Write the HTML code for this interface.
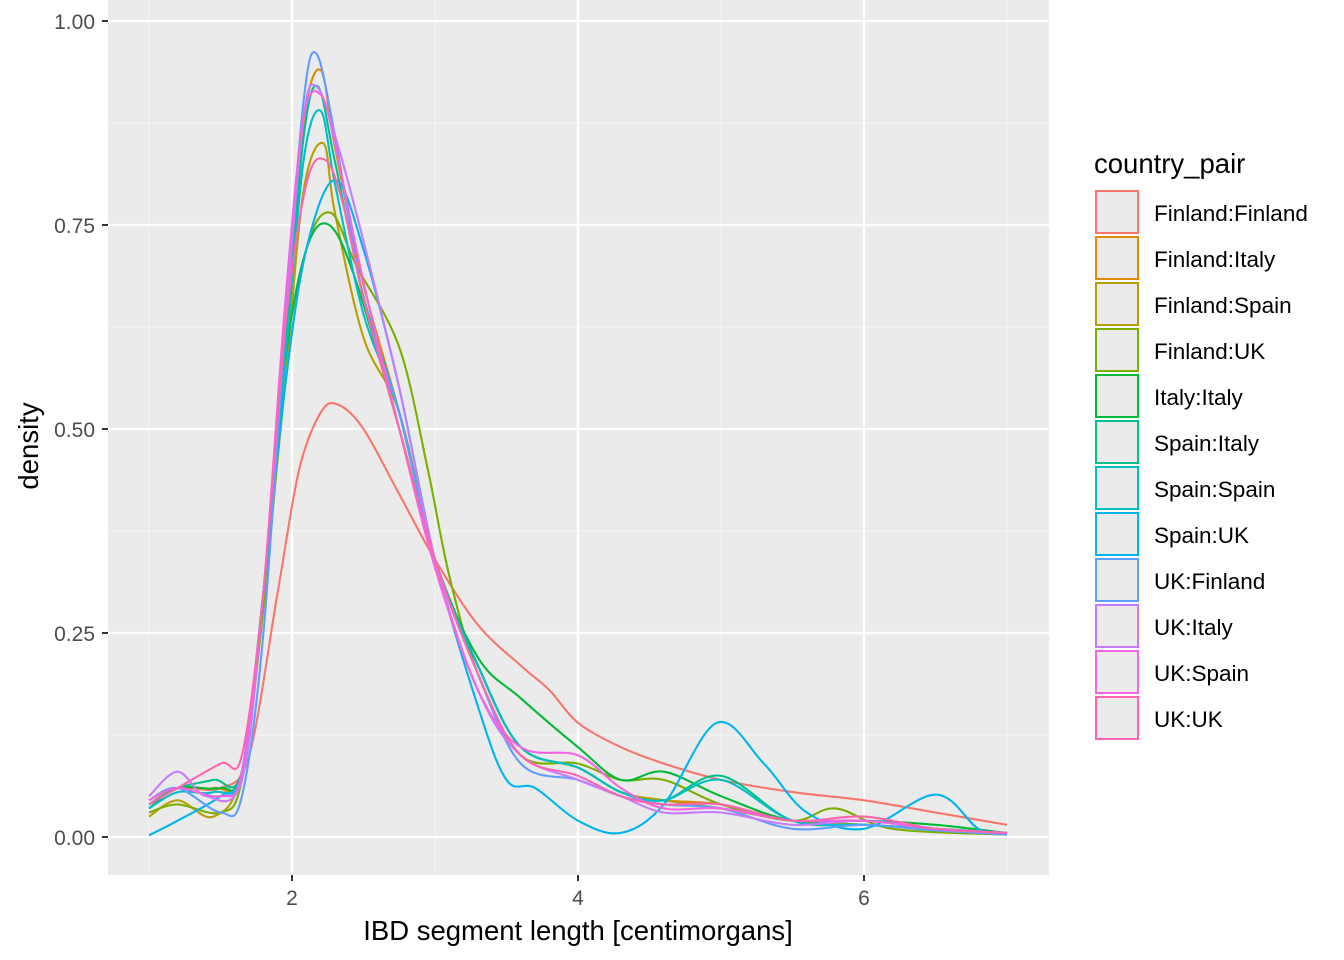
<!DOCTYPE html>
<html><head><meta charset="utf-8"><style>
html,body{margin:0;padding:0;background:#fff;}
svg{display:block;font-family:"Liberation Sans",Arial,sans-serif;}
</style></head><body>
<svg id="s" width="1344" height="960" viewBox="0 0 1344 960" xmlns="http://www.w3.org/2000/svg">
<rect x="108" y="0" width="941" height="875" fill="#EBEBEB"/>
<g stroke="#F5F5F5" stroke-width="1.1">
<line x1="108" x2="1049" y1="123" y2="123"/><line x1="108" x2="1049" y1="327" y2="327"/>
<line x1="108" x2="1049" y1="531" y2="531"/><line x1="108" x2="1049" y1="735" y2="735"/>
<line y1="0" y2="875" x1="149" x2="149"/><line y1="0" y2="875" x1="435" x2="435"/>
<line y1="0" y2="875" x1="721" x2="721"/><line y1="0" y2="875" x1="1007" x2="1007"/>
</g>
<g stroke="#FFFFFF" stroke-width="2.2">
<line x1="108" x2="1049" y1="21" y2="21"/><line x1="108" x2="1049" y1="225" y2="225"/>
<line x1="108" x2="1049" y1="429" y2="429"/><line x1="108" x2="1049" y1="633" y2="633"/>
<line x1="108" x2="1049" y1="837" y2="837"/>
<line y1="0" y2="875" x1="292" x2="292"/><line y1="0" y2="875" x1="578" x2="578"/><line y1="0" y2="875" x1="864" x2="864"/>
</g>
<g id="curves" fill="none" stroke-width="2.1"></g>
<g stroke="#333" stroke-width="2">
<line x1="102" x2="108" y1="21" y2="21"/><line x1="102" x2="108" y1="225" y2="225"/>
<line x1="102" x2="108" y1="429" y2="429"/><line x1="102" x2="108" y1="633" y2="633"/>
<line x1="102" x2="108" y1="837" y2="837"/>
<line y1="875" y2="881" x1="292" x2="292"/><line y1="875" y2="881" x1="578" x2="578"/><line y1="875" y2="881" x1="864" x2="864"/>
</g>
<g font-size="21" fill="#4D4D4D" text-anchor="end">
<text x="95" y="29">1.00</text><text x="95" y="233">0.75</text><text x="95" y="437">0.50</text>
<text x="95" y="641">0.25</text><text x="95" y="845">0.00</text>
</g>
<g font-size="21" fill="#4D4D4D" text-anchor="middle">
<text x="292" y="905">2</text><text x="578" y="905">4</text><text x="864" y="905">6</text>
</g>
<text x="578" y="940" font-size="27.5" text-anchor="middle" fill="#000">IBD segment length [centimorgans]</text>
<text transform="translate(38,446) rotate(-90)" font-size="27.5" text-anchor="middle" fill="#000">density</text>
<text x="1094" y="173" font-size="27.5" fill="#000">country_pair</text>
<g id="legend"></g>
</svg>
<script>
var cols=["#F8766D","#DE8C00","#B79F00","#7CAE00","#00BA38","#00C08B","#00BFC4","#00B4F0","#619CFF","#C77CFF","#F564E3","#FF64B0"];
var names=["Finland:Finland","Finland:Italy","Finland:Spain","Finland:UK","Italy:Italy","Spain:Italy","Spain:Spain","Spain:UK","UK:Finland","UK:Italy","UK:Spain","UK:UK"];
function gen(pk,px,base,tail,wig){
 return [[1,base],[1.2,base+0.02],[1.45,base+(wig||0)],[1.65,0.08],[1.8,0.3],[1.95,0.65*pk],[2.08,0.93*pk],[px,pk],[2.3,0.9*pk],[2.5,0.72*pk],[2.75,0.52],[3,0.34],[3.3,0.21],[3.6,0.11],[4,0.085],[4.3,0.055],[4.6,0.045],[5,tail],[5.5,0.02],[6,0.015],[6.5,0.01],[7,0.005]];
}
var data=[
 [[1,0.04],[1.2,0.06],[1.5,0.06],[1.7,0.1],[1.9,0.3],[2.05,0.45],[2.2,0.52],[2.32,0.53],[2.5,0.5],[2.75,0.42],[3,0.34],[3.3,0.26],[3.6,0.21],[3.8,0.18],[4,0.14],[4.3,0.11],[4.6,0.09],[5,0.07],[5.5,0.055],[6,0.045],[6.5,0.03],[7,0.015]],
 gen(0.94,2.2,0.04,0.04,0.02),
 gen(0.85,2.22,0.025,0.035,0.0),
 [[1,0.03],[1.2,0.04],[1.5,0.03],[1.65,0.07],[1.8,0.28],[1.95,0.55],[2.1,0.72],[2.27,0.765],[2.45,0.7],[2.75,0.6],[2.95,0.45],[3.1,0.32],[3.3,0.2],[3.6,0.1],[4,0.09],[4.3,0.07],[4.6,0.07],[5,0.04],[5.5,0.02],[5.8,0.035],[6.2,0.01],[7,0.003]],
 [[1,0.035],[1.2,0.06],[1.5,0.06],[1.65,0.08],[1.8,0.3],[1.95,0.58],[2.1,0.72],[2.26,0.75],[2.45,0.68],[2.75,0.5],[3,0.34],[3.3,0.22],[3.6,0.17],[4,0.11],[4.3,0.07],[4.6,0.08],[5,0.05],[5.5,0.02],[6,0.02],[6.5,0.015],[7,0.005]],
 gen(0.92,2.18,0.04,0.075,0.03),
 gen(0.89,2.2,0.035,0.07,0.02),
 [[1,0.002],[1.2,0.02],[1.5,0.05],[1.65,0.08],[1.8,0.3],[1.95,0.55],[2.1,0.72],[2.3,0.805],[2.5,0.72],[2.75,0.55],[3,0.34],[3.3,0.16],[3.5,0.07],[3.7,0.06],[4,0.02],[4.3,0.005],[4.6,0.04],[4.97,0.14],[5.3,0.09],[5.6,0.03],[6,0.01],[6.5,0.052],[6.8,0.01],[7,0.003]],
 [[1,0.045],[1.2,0.06],[1.5,0.03],[1.65,0.05],[1.8,0.25],[1.95,0.62],[2.08,0.9],[2.17,0.96],[2.3,0.86],[2.5,0.66],[2.75,0.52],[3,0.34],[3.3,0.2],[3.6,0.09],[4,0.07],[4.3,0.05],[4.6,0.04],[5,0.035],[5.5,0.01],[6,0.015],[6.5,0.008],[7,0.003]],
 [[1,0.05],[1.2,0.08],[1.4,0.05],[1.65,0.07],[1.8,0.3],[1.95,0.62],[2.08,0.88],[2.17,0.92],[2.3,0.86],[2.5,0.73],[2.75,0.55],[3,0.34],[3.3,0.18],[3.6,0.1],[4,0.07],[4.3,0.05],[4.6,0.03],[5,0.03],[5.5,0.015],[6,0.02],[6.5,0.01],[7,0.005]],
 [[1,0.045],[1.2,0.06],[1.5,0.05],[1.65,0.08],[1.8,0.3],[1.95,0.65],[2.08,0.88],[2.2,0.91],[2.3,0.85],[2.5,0.68],[2.75,0.5],[3,0.33],[3.3,0.18],[3.6,0.11],[4,0.1],[4.3,0.06],[4.6,0.035],[5,0.035],[5.5,0.02],[6,0.02],[6.5,0.01],[7,0.005]],
 [[1,0.04],[1.2,0.06],[1.5,0.09],[1.65,0.1],[1.8,0.3],[1.95,0.62],[2.1,0.8],[2.23,0.83],[2.35,0.78],[2.5,0.66],[2.75,0.5],[3,0.34],[3.3,0.2],[3.6,0.1],[4,0.075],[4.3,0.05],[4.6,0.04],[5,0.04],[5.5,0.02],[6,0.025],[6.5,0.01],[7,0.005]]
];
function X(v){return 149+(v-1)*143;} function Y(d){return 837-d*816;}
function path(p){
 var pts=p.map(function(q){return [X(q[0]),Y(q[1])];});
 var s="M"+pts[0][0].toFixed(1)+","+pts[0][1].toFixed(1);
 for(var i=0;i<pts.length-1;i++){
  var p0=pts[Math.max(0,i-1)],p1=pts[i],p2=pts[i+1],p3=pts[Math.min(pts.length-1,i+2)];
  var c1=[p1[0]+(p2[0]-p0[0])/6,p1[1]+(p2[1]-p0[1])/6],c2=[p2[0]-(p3[0]-p1[0])/6,p2[1]-(p3[1]-p1[1])/6];
  s+="C"+c1[0].toFixed(1)+","+c1[1].toFixed(1)+" "+c2[0].toFixed(1)+","+c2[1].toFixed(1)+" "+p2[0].toFixed(1)+","+p2[1].toFixed(1);
 }
 return s;
}
var ns="http://www.w3.org/2000/svg",g=document.getElementById("curves"),lg=document.getElementById("legend");
data.forEach(function(d,i){var e=document.createElementNS(ns,"path");e.setAttribute("d",path(d));e.setAttribute("stroke",cols[i]);g.appendChild(e);});
names.forEach(function(n,i){
 var y=191+i*46;
 var r=document.createElementNS(ns,"rect");r.setAttribute("x",1096);r.setAttribute("y",y);r.setAttribute("width",42);r.setAttribute("height",42);
 r.setAttribute("fill","#EBEBEB");r.setAttribute("stroke",cols[i]);r.setAttribute("stroke-width","2");lg.appendChild(r);
 var t=document.createElementNS(ns,"text");t.setAttribute("x",1154);t.setAttribute("y",y+30);t.setAttribute("font-size","22.5");t.setAttribute("fill","#000");t.textContent=n;lg.appendChild(t);
});
</script>
</body></html>
